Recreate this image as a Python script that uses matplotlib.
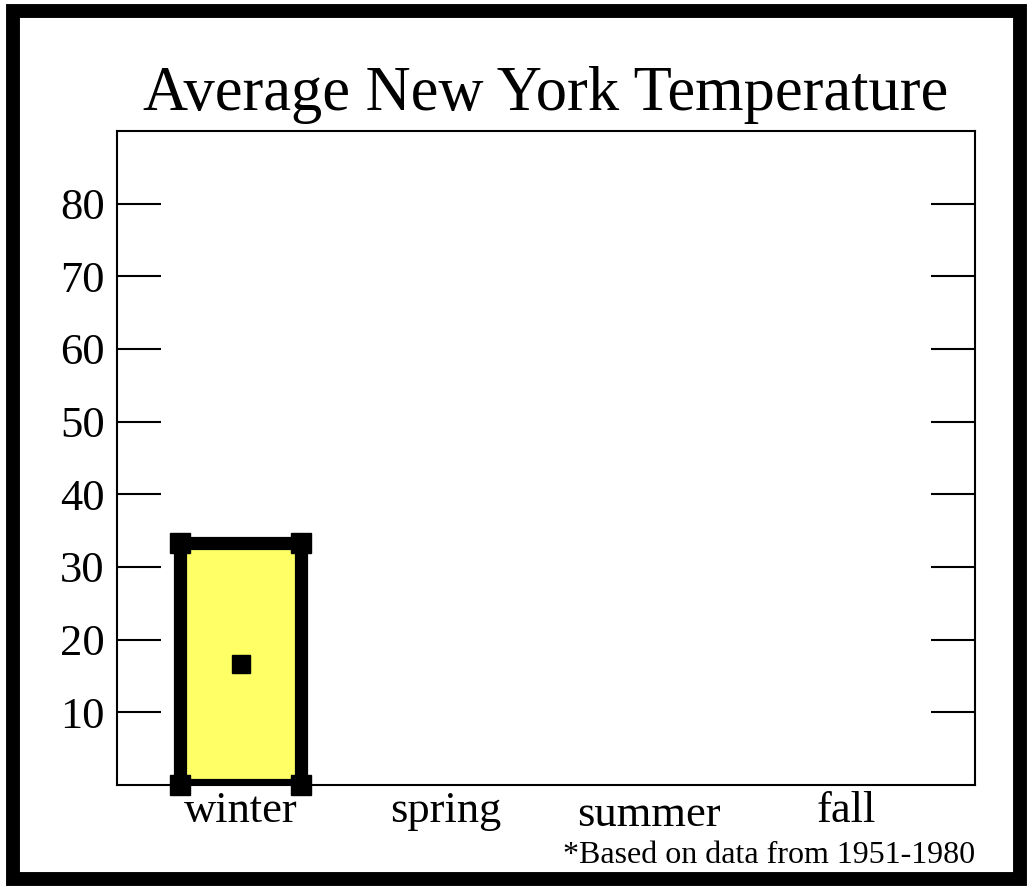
import matplotlib.pyplot as plt
from matplotlib.patches import Rectangle
import matplotlib.transforms as mtransforms

# data
seasons = ['winter', 'spring', 'summer', 'fall']
temps = [33.3]          # only winter has a bar
yticks = [10, 20, 30, 40, 50, 60, 70, 80]

plt.rcParams['font.family'] = ['Liberation Serif', 'DejaVu Serif']

fig = plt.figure(figsize=(10.33, 8.9), dpi=100)
ax = fig.add_axes([0.1133, 0.118, 0.8306, 0.7348])

# thick outer frame around the whole figure
fig.patches.append(Rectangle((0.0125, 0.0125), 0.975, 0.9755, transform=fig.transFigure,
                             fill=False, edgecolor='black', linewidth=10, zorder=10))

# bar with heavy outline
bw = 0.6
for i, v in enumerate(temps):
    ax.bar(i, v, width=bw, color='#ffff66', edgecolor='black', linewidth=9.5, zorder=2)
    xs = [i - bw / 2, i + bw / 2, i - bw / 2, i + bw / 2]
    ys = [0, 0, v, v]
    ax.plot(xs, ys, 's', color='black', markersize=14, zorder=3, clip_on=False)
    ax.plot(i, v / 2, 's', color='black', markersize=13, zorder=3)

ax.set_xlim(-0.615, 3.655)
ax.set_ylim(0, 90)
ax.set_yticks(yticks)
ax.set_xticks(range(len(seasons)))
ax.set_xticklabels(seasons)

ax.tick_params(axis='y', direction='in', length=32, width=1.5, left=True, right=True,
               labelsize=32, pad=9)
ax.tick_params(axis='x', length=0, labelsize=32, pad=4)
for sp in ax.spines.values():
    sp.set_linewidth(1.5)

# labels are a little uneven in the original (x, y nudges in px)
nudge = {'winter': (0, 0), 'spring': (4, 0), 'summer': (6, -4), 'fall': (3, 0)}
for lab in ax.get_xticklabels():
    dx, dy = nudge[lab.get_text()]
    lab.set_transform(lab.get_transform() +
                      mtransforms.ScaledTranslation(dx / 100, dy / 100, fig.dpi_scale_trans))

ax.set_title('Average New York Temperature', fontsize=45, pad=15)
fig.text(975 / 1033, 1 - 863 / 890, '*Based on data from 1951-1980', fontsize=23,
         ha='right', va='baseline')

fig.savefig('out.png', dpi=100)
